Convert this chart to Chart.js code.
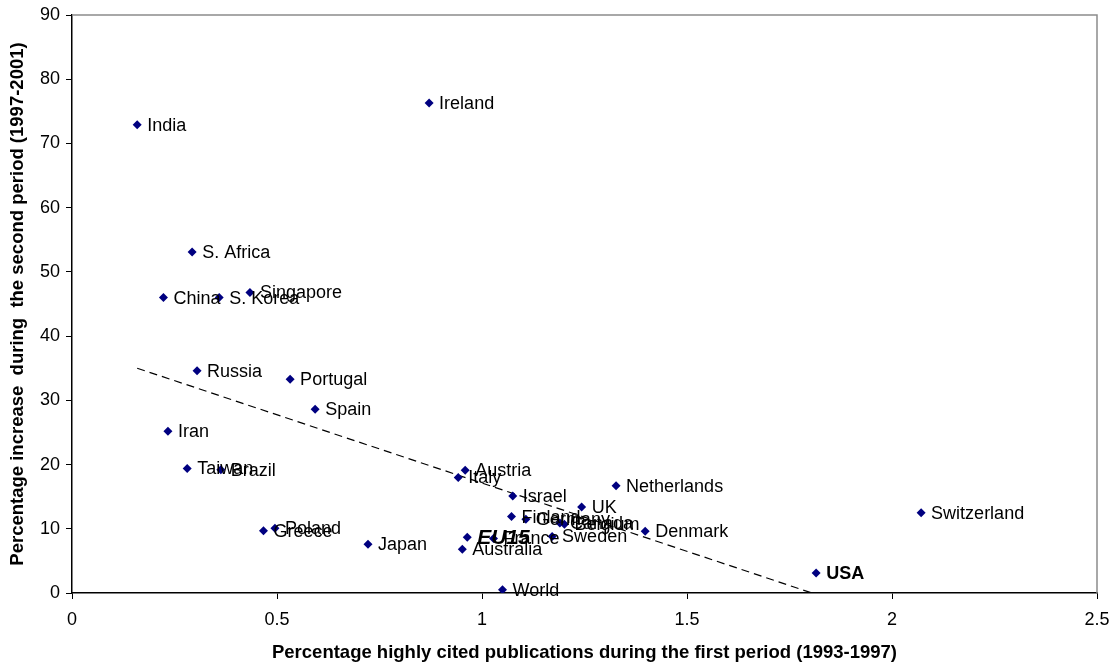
<!DOCTYPE html>
<html>
<head>
<meta charset="utf-8">
<script src="https://cdn.jsdelivr.net/npm/chart.js@4/dist/chart.umd.min.js"></script>
<style>
    html, body { margin: 0; padding: 0; background: #fff; }
    #wrap { width: 1114px; height: 668px; }
</style>
</head>
<body>
<div id="wrap"><canvas id="scatter-chart" width="1114" height="668"></canvas></div>
<script>
/* data */
const countries = ["India", "Ireland", "S. Africa", "Singapore", "China", "S. Korea", "Russia", "Portugal",
    "Spain", "Iran", "Taiwan", "Brazil", "Greece", "Poland", "Japan", "Austria", "Italy", "Israel",
    "Finland", "Germany", "Canada", "Belgium", "UK", "Netherlands", "Denmark", "EU15", "France",
    "Sweden", "Australia", "World", "Switzerland", "USA"];
const citedShare = [0.159, 0.871, 0.293, 0.434, 0.223, 0.359, 0.305, 0.532,
    0.593, 0.234, 0.281, 0.363, 0.467, 0.495, 0.722, 0.959, 0.942, 1.075,
    1.072, 1.107, 1.190, 1.201, 1.243, 1.327, 1.398, 0.964, 1.028,
    1.171, 0.952, 1.050, 2.071, 1.815];
const increase = [72.9, 76.3, 53.1, 46.8, 46.0, 46.0, 34.6, 33.3,
    28.6, 25.2, 19.4, 19.2, 9.7, 10.1, 7.6, 19.1, 18.0, 15.1,
    11.9, 11.5, 10.9, 10.7, 13.4, 16.7, 9.6, 8.7, 8.5,
    8.8, 6.8, 0.5, 12.5, 3.1];
// trend line end points
const trendX = [0.159, 1.805];
const trendY = [35.0, 0];
const xTicks = [0, 0.5, 1, 1.5, 2, 2.5];
const yTicks = [0, 10, 20, 30, 40, 50, 60, 70, 80, 90];

const FONT = "'Liberation Sans', Arial, sans-serif";

//font for each point label
function labelFont(name) {
    if (name === "EU15") return "italic bold 21px " + FONT;
    if (name === "USA") return "bold 18px " + FONT;
    return "18px " + FONT;
}

//draws grey frame and the country names
const labelsPlugin = {
    id: "pointLabels",
    beforeDatasetsDraw(chart) {
        const a = chart.chartArea;
        const ctx = chart.ctx;
        ctx.save();
        ctx.strokeStyle = "#8c8c8c";
        ctx.lineWidth = 1.5;
        ctx.beginPath();
        ctx.moveTo(a.left, a.top);
        ctx.lineTo(a.right, a.top);
        ctx.lineTo(a.right, a.bottom);
        ctx.stroke();
        ctx.restore();
    },
    afterDatasetsDraw(chart) {
        const ctx = chart.ctx;
        const xs = chart.scales.x;
        const ys = chart.scales.y;
        ctx.save();
        ctx.fillStyle = "#000";
        ctx.textBaseline = "middle";
        ctx.textAlign = "left";
        countries.forEach((name, i) => {
            ctx.font = labelFont(name);
            const px = xs.getPixelForValue(citedShare[i]);
            const py = ys.getPixelForValue(increase[i]);
            ctx.fillText(name, px + 10, py + 1);
        });
        ctx.restore();
    }
};

function drawChart() {
    const canvas = document.getElementById("scatter-chart");

    const data = {
        datasets: [
            {
                label: "countries",
                data: citedShare.map((v, i) => ({ x: v, y: increase[i] })),
                pointStyle: "rectRot",
                pointRadius: 4.5,
                backgroundColor: "#000080",
                borderColor: "#000080",
                borderWidth: 0,
                showLine: false
            },
            {
                label: "trend",
                data: trendX.map((v, i) => ({ x: v, y: trendY[i] })),
                showLine: true,
                borderColor: "#000",
                borderWidth: 1.2,
                borderDash: [8, 5],
                pointRadius: 0,
                fill: false
            }
        ]
    };

    const config = {
        type: "scatter",
        data: data,
        options: {
            responsive: false,
            animation: false,
            events: [],
            layout: { padding: { top: 15, right: 17, left: 0, bottom: 0 } },
            plugins: {
                legend: { display: false },
                tooltip: { enabled: false }
            },
            scales: {
                x: {
                    type: "linear",
                    min: 0,
                    max: 2.5,
                    afterBuildTicks: s => { s.ticks = xTicks.map(v => ({ value: v })); },
                    afterFit: s => { s.height = 75; s.paddingLeft = 0; s.paddingRight = 0; },
                    ticks: {
                        color: "#000",
                        font: { family: FONT, size: 18 },
                        padding: 10,
                        maxRotation: 0,
                        callback: v => String(v)
                    },
                    grid: { display: true, drawOnChartArea: false, drawTicks: true, tickLength: 6, color: "#000" },
                    border: { color: "#000", width: 1.5 },
                    title: {
                        display: true,
                        text: "Percentage highly cited publications during the first period (1993-1997)",
                        color: "#000",
                        font: { family: FONT, size: 18.5, weight: "bold" },
                        padding: { top: 4, bottom: 4 }
                    }
                },
                y: {
                    type: "linear",
                    min: 0,
                    max: 90,
                    afterBuildTicks: s => { s.ticks = yTicks.map(v => ({ value: v })); },
                    afterFit: s => { s.width = 72; s.paddingTop = 0; s.paddingBottom = 0; },
                    ticks: {
                        color: "#000",
                        font: { family: FONT, size: 18 },
                        padding: 6
                    },
                    grid: { display: true, drawOnChartArea: false, drawTicks: true, tickLength: 6, color: "#000" },
                    border: { color: "#000", width: 1.5 },
                    title: {
                        display: true,
                        text: "Percentage increase  during  the second period (1997-2001)",
                        color: "#000",
                        font: { family: FONT, size: 18.5, weight: "bold" },
                        padding: { top: 7, bottom: 0 }
                    }
                }
            }
        },
        plugins: [labelsPlugin]
    };

    const ctx = canvas.getContext("2d");
    const scatterChart = new Chart(ctx, config);
}

drawChart();
</script>
</body>
</html>
